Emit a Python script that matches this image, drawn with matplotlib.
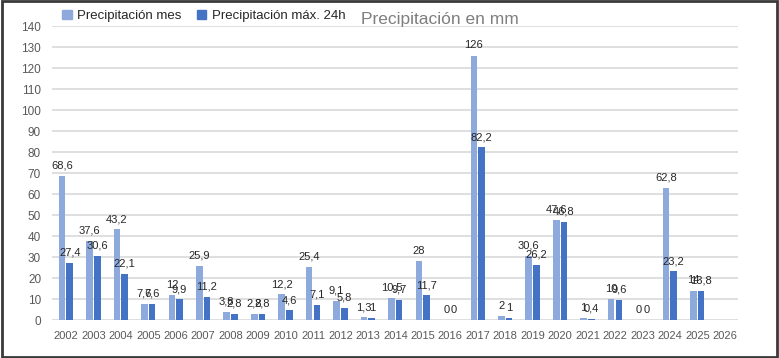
import numpy as np
import matplotlib.pyplot as plt
from matplotlib.patches import Rectangle, Patch

plt.rcParams['font.family'] = ['Liberation Sans', 'DejaVu Sans']

# Data
years = [str(y) for y in range(2002, 2027)]
prec_mes = [68.6, 37.6, 43.2, 7.6, 12, 25.9, 3.8, 2.8, 12.2, 25.4, 9.1, 1.3, 10.5,
            28, 0, 126, 2, 30.6, 47.6, 1, 10, 0, 62.8, 14, np.nan]
prec_24h = [27.4, 30.6, 22.1, 7.6, 9.9, 11.2, 2.8, 2.8, 4.6, 7.1, 5.8, 1, 9.7,
            11.7, 0, 82.2, 1, 26.2, 46.8, 0.4, 9.6, 0, 23.2, 13.8, np.nan]

c_light = '#8EA9DB'
c_dark = '#4472C4'
grey = '#595959'

fig = plt.figure(figsize=(7.79, 3.58), dpi=100)
ax = fig.add_axes([0.067, 0.106, 0.881, 0.821])

x = np.arange(len(years))
w = 0.24
b1 = ax.bar(x - w / 2 - 0.02, prec_mes, w, color=c_light, label='Precipitación mes', zorder=3)
b2 = ax.bar(x + w / 2 + 0.02, prec_24h, w, color=c_dark, label='Precipitación máx. 24h', zorder=3)

def fmt(v):
    return f"{v:g}".replace('.', ',')

for bars, vals in ((b1, prec_mes), (b2, prec_24h)):
    for r, v in zip(bars, vals):
        if np.isnan(v):
            continue
        ax.text(r.get_x() + r.get_width() / 2, v + 2.5, fmt(v), ha='center', va='bottom',
                fontsize=8, color='#262626', zorder=4)

ax.set_xlim(-0.5, len(years) - 0.5)
ax.set_ylim(0, 140)
ax.set_yticks(np.arange(0, 141, 10))
ax.set_xticks(x)
ax.set_xticklabels(years)
ax.tick_params(axis='both', length=0, labelsize=8.5, labelcolor=grey)
ax.tick_params(axis='x', pad=8, labelsize=8)
ax.tick_params(axis='y', pad=8)
ax.yaxis.grid(True, color='#D9D9D9', lw=1.2, zorder=0)
for s in ax.spines.values():
    s.set_visible(False)

fig.text(0.565, 0.945, 'Precipitación en mm', ha='center', va='center', fontsize=12.5, color='#7f7f7f')

handles = [Patch(color=c_light), Patch(color=c_dark)]
fig.legend(handles, ['Precipitación mes', 'Precipitación máx. 24h'], loc='center left',
           bbox_to_anchor=(0.080, 0.955), ncol=2, frameon=False, fontsize=9.5,
           handlelength=0.7, handleheight=0.7, handletextpad=0.4, columnspacing=1.2,
           labelcolor='#262626', borderaxespad=0, borderpad=0)

fig.patches.append(Rectangle((0.002, 0.004), 0.996, 0.992, transform=fig.transFigure,
                             fill=False, edgecolor='#3a3a3a', lw=2))

fig.savefig('out.png', dpi=100)
